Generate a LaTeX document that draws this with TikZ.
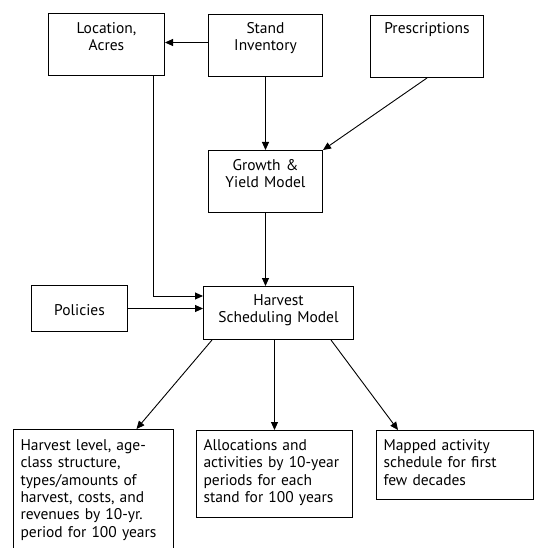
\documentclass[tikz,border=0pt]{standalone}
\usepackage{fontspec}
\setmainfont{PT Sans}
\usetikzlibrary{arrows.meta, positioning}
\exhyphenpenalty=10000
\hyphenpenalty=10000

\tikzset{
  block/.style={draw, line width=1pt, anchor=north west, inner xsep=4pt, inner ysep=0pt,
    align=center, font=\fontsize{15.5}{17.3}\selectfont},
  outbox/.style={block, align=left, inner xsep=7pt},
  arrow/.style={line width=0.9pt, -{Triangle[length=8pt,width=7pt]}}
}

\begin{document}
\begin{tikzpicture}[x=1pt, y=-1pt]
\useasboundingbox (0,0) rectangle (533,548);

\node (loc) [block, text width=108pt, text height=20pt, text depth=42pt] at (48,13) {Location,\\Acres};
\node (stand) [block, text width=106pt, text height=19pt, text depth=43pt] at (208,14) {Stand\\Inventory};
\node (presc) [block, text width=105pt, text height=18pt, text depth=44pt] at (370,15) {Prescriptions};
\node (growth) [block, text width=106pt, text height=20pt, text depth=42pt] at (208,150) {Growth \&\\Yield Model};
\node (harv) [block, text width=142pt, text height=19pt, text depth=34pt] at (203,286) {Harvest\\Scheduling Model};
\node (pol) [block, text width=88pt, text height=30pt, text depth=16pt] at (31,285) {Policies};

\node (outL) [outbox, text width=146pt, text height=21pt, text depth=104pt] at (13,429) {Harvest level, age-\\class structure,\\types/amounts of\\harvest, costs, and\\revenues by 10-yr.\\period for 100 years};
\node (outM) [outbox, text width=142pt, text height=20pt, text depth=67pt] at (196,430) {Allocations and\\activities by 10-year\\periods for each\\stand for 100 years};
\node (outR) [outbox, text width=143pt, text height=20pt, text depth=49pt] at (376,430) {Mapped activity\\schedule for first\\few decades};

\coordinate (locdrop) at ([xshift=-12pt]loc.south east);

% inputs
\draw [arrow] ([yshift=3pt]stand.west) -- ([yshift=3pt]stand.west -| loc.east);
\draw [arrow] (stand.south) -- (growth.north);
\draw [arrow] (presc.south) -- (growth.north east);
\draw [arrow] (growth.south) -- (growth.south |- harv.north);
\draw [arrow] (locdrop) |- ([yshift=17pt]harv.west);
\draw [arrow] (pol.east) -- (pol.east -| harv.west);

% outputs
\draw [arrow] ([xshift=9pt]harv.south west) -- ([xshift=43pt]outL.north);
\draw [arrow] (harv.south -| outM.north) -- (outM.north);
\draw [arrow] ([xshift=-23pt]harv.south east) -- ([xshift=22pt]outR.north west);

\end{tikzpicture}
\end{document}
